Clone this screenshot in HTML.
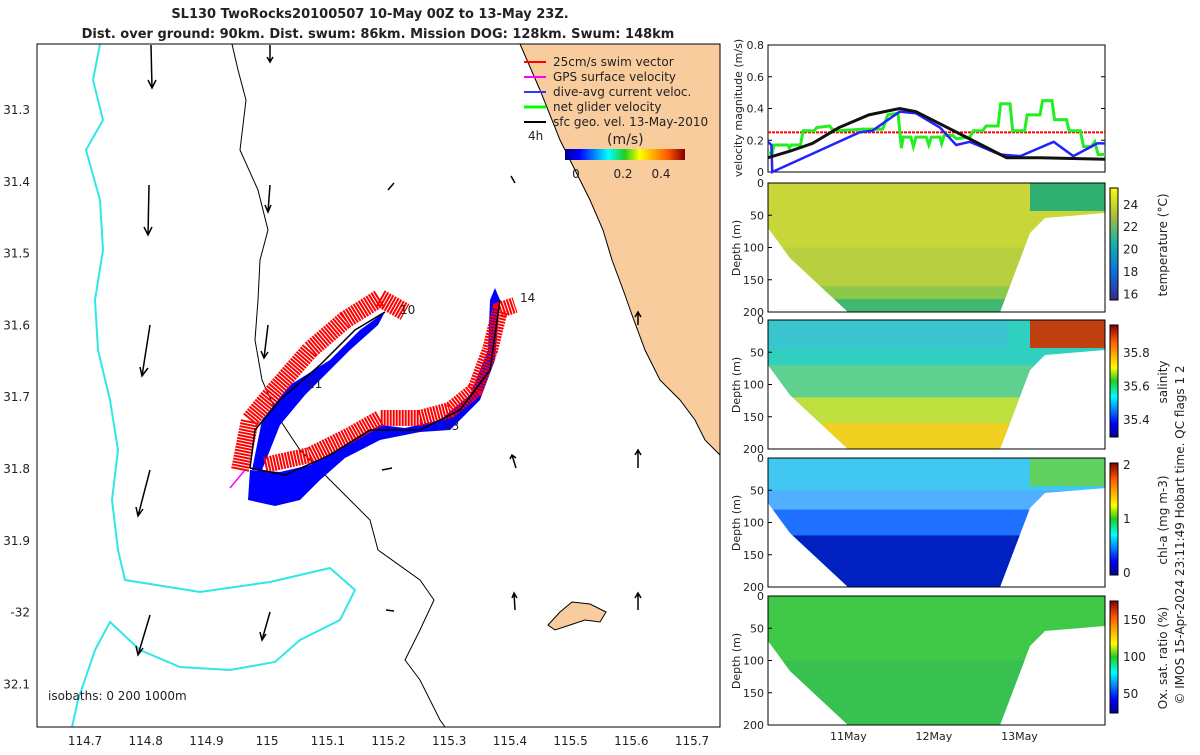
<!DOCTYPE html>
<html><head><meta charset="utf-8"><style>
body{margin:0;background:#fff;font-family:"Liberation Sans","DejaVu Sans",sans-serif}
svg text{font-family:"DejaVu Sans","Liberation Sans",sans-serif;fill:#222}
</style></head><body>
<svg id="s" width="1200" height="750" font-size="12">
<defs>
<linearGradient id="jet" x1="0" x2="1"><stop offset="0" stop-color="#00008f"/><stop offset=".12" stop-color="#0000ff"/><stop offset=".36" stop-color="#00ffff"/><stop offset=".5" stop-color="#22cc22"/><stop offset=".62" stop-color="#ffff00"/><stop offset=".86" stop-color="#ff5500"/><stop offset="1" stop-color="#800000"/></linearGradient>
<linearGradient id="jetv" x1="0" y1="1" x2="0" y2="0"><stop offset="0" stop-color="#00008f"/><stop offset=".12" stop-color="#0000ff"/><stop offset=".36" stop-color="#00ffff"/><stop offset=".5" stop-color="#22cc22"/><stop offset=".62" stop-color="#ffff00"/><stop offset=".86" stop-color="#ff5500"/><stop offset="1" stop-color="#800000"/></linearGradient>
<linearGradient id="parv" x1="0" y1="1" x2="0" y2="0"><stop offset="0" stop-color="#352a87"/><stop offset=".25" stop-color="#0f6fe0"/><stop offset=".5" stop-color="#12b3b0"/><stop offset=".75" stop-color="#a5be3a"/><stop offset="1" stop-color="#f9fb0e"/></linearGradient>
<clipPath id="bowl"><path d="M768,0 L768,45 L790,75 L848,129 L1000,129 L1030,50 L1045,35 L1105,30 L1105,0 Z"/></clipPath>
</defs>

<text x="370" y="18" text-anchor="middle" font-weight="bold" font-size="13">SL130 TwoRocks20100507 10-May 00Z to 13-May 23Z.</text>
<text x="378" y="38" text-anchor="middle" font-weight="bold" font-size="13">Dist. over ground: 90km. Dist. swum: 86km. Mission DOG: 128km. Swum: 148km</text>

<g id="map">
<rect x="37" y="44" width="683" height="683" fill="#fff"/>
<path d="M520,44 L540,90 L560,140 L575,170 L590,200 L603,230 L612,260 L625,295 L632,315 L645,350 L660,380 L680,400 L695,420 L705,440 L720,455 L720,44 Z" fill="#f9cc9e" stroke="#000" stroke-width="1"/>
<path d="M548,625 L560,612 L572,602 L590,604 L606,612 L600,622 L585,620 L570,625 L555,630 Z" fill="#f9cc9e" stroke="#000"/>
<path d="M100,44 L93,80 L103,120 L86,150 L100,200 L103,250 L95,300 L98,350 L110,400 L118,450 L112,500 L118,550 L125,580 L200,592 L270,582 L330,568 L355,590 L340,620 L300,640 L275,662 L230,670 L180,667 L140,650 L110,622 L95,650 L78,700 L72,727" fill="none" stroke="#33e6e6" stroke-width="2"/>
<path d="M232,44 L238,70 L246,100 L240,150 L258,190 L268,230 L260,260 L258,300 L255,340 L262,380 L280,420 L300,450 L340,490 L370,520 L378,550 L420,580 L434,600 L420,630 L405,660 L420,680 L440,720 L445,727" fill="none" stroke="#000" stroke-width="1"/>
<path d="M250,470 L248,500 L275,506 L300,500 L320,480 L345,458 L380,440 L420,432 L450,430 L480,400 L495,360 L500,300 L495,288 L490,300 L488,350 L470,395 L440,420 L405,428 L380,425 L345,445 L310,465 L280,472 Z" fill="#0000ff"/>
<path d="M252,470 L262,420 L290,385 L330,360 L360,330 L385,312 L378,325 L350,350 L305,395 L280,425 L262,470 Z" fill="#0000ff"/>
<path d="M240,470 L250,420 L275,390 L310,350 L345,320 L380,298 L405,312" fill="none" stroke="#ff0000" stroke-width="18" stroke-dasharray="2 1"/>
<path d="M265,465 L310,455 L350,435 L380,418 L420,418 L450,410 L475,390 L490,350 L500,310 L515,305" fill="none" stroke="#ff0000" stroke-width="16" stroke-dasharray="2 1"/>
<path d="M250,468 L255,430 L280,400 L320,365 L355,330 L385,312 M250,468 L285,475 L330,455 L370,430 L420,430 L460,410 L490,370 L500,300" fill="none" stroke="#000" stroke-width="1.5"/>
<line x1="245" y1="470" x2="230" y2="488" stroke="#ff00ff" stroke-width="1.5"/>
<text x="400" y="314">10</text>
<text x="307" y="388">11</text>
<text x="444" y="430">13</text>
<text x="520" y="302">14</text>
<g stroke="#000" stroke-width="1.5" fill="none">
<path d="M151,45 L152,88 M148,80 L152,88 L156,80"/><path d="M149,185 L148,235 M144,227 L148,235 L152,227"/>
<path d="M150,325 L142,376 M140,367 L142,376 L148,368"/><path d="M150,470 L138,516 M136,507 L138,516 L143,509"/>
<path d="M150,615 L138,655 M136,646 L138,655 L143,648"/><path d="M270,45 L270,62 M267,57 L270,62 L273,57"/>
<path d="M270,185 L268,212 M265,205 L268,212 L271,205"/><path d="M268,325 L264,358 M261,351 L264,358 L268,352"/>
<path d="M270,612 L262,640 M260,632 L262,640 L266,634"/><path d="M394,183 L388,190"/><path d="M511,176 L515,183"/>
<path d="M638,312 L638,325 M635,317 L638,312 L641,317"/><path d="M512,455 L516,468 M510,459 L512,455 L516,458"/>
<path d="M638,450 L638,468 M635,455 L638,450 L641,455"/><path d="M382,470 L392,468"/><path d="M514,593 L515,610 M512,598 L514,593 L517,598"/>
<path d="M638,593 L638,610 M635,598 L638,593 L641,598"/><path d="M386,610 L394,611"/>
</g>
<g>
<line x1="524" y1="62" x2="546" y2="62" stroke="#f00" stroke-width="2"/><text x="553" y="66">25cm/s swim vector</text>
<line x1="524" y1="77" x2="546" y2="77" stroke="#f0f" stroke-width="2"/><text x="553" y="81">GPS surface velocity</text>
<line x1="524" y1="92" x2="546" y2="92" stroke="#33f" stroke-width="2"/><text x="553" y="96">dive-avg current veloc.</text>
<line x1="524" y1="107" x2="546" y2="107" stroke="#0f0" stroke-width="3"/><text x="553" y="111">net glider velocity</text>
<line x1="524" y1="122" x2="546" y2="122" stroke="#000" stroke-width="2"/><text x="553" y="126">sfc geo. vel. 13-May-2010</text>
<text x="528" y="140">4h</text><text x="607" y="144" font-size="14">(m/s)</text>
<rect x="565" y="149" width="120" height="11" fill="url(#jet)"/>
<text x="576" y="178" text-anchor="middle">0</text><text x="623" y="178" text-anchor="middle">0.2</text><text x="661" y="178" text-anchor="middle">0.4</text>
</g>
<rect x="37" y="44" width="683" height="683" fill="none" stroke="#000"/>
<text x="48" y="700">isobaths: 0   200  1000m</text>
<g id="mapticks"></g>
</g>

<g>
<rect x="768" y="45" width="337" height="127" fill="#fff" stroke="#000"/>
<g id="vticks"></g>
<g id="vlines"></g>
<text transform="translate(742,108) rotate(-90)" text-anchor="middle" font-size="11">velocity magnitude (m/s)</text>
</g>
<g id="sections"></g>
<text transform="translate(1184,535) rotate(-90)" text-anchor="middle">© IMOS 15-Apr-2024 23:11:49 Hobart time. QC flags 1  2</text>
</svg>
<script>
const NS="http://www.w3.org/2000/svg";
function mk(t,a,p,txt){const e=document.createElementNS(NS,t);for(const k in a)e.setAttribute(k,a[k]);if(txt!=null)e.textContent=txt;p.appendChild(e);return e;}
const lonTicks=["114.7","114.8","114.9","115","115.1","115.2","115.3","115.4","115.5","115.6","115.7"];
const latTicks=["31.3","31.4","31.5","31.6","31.7","31.8","31.9","-32","32.1"];
const mt=document.getElementById('mapticks');
lonTicks.forEach((l,i)=>{const x=85+i*60.7;const t=mk('text',{x:x,y:745,'text-anchor':'middle'},mt,l);

});
latTicks.forEach((l,i)=>{const y=114+i*71.8;const t=mk('text',{x:30,y:y,'text-anchor':'end'},mt,l);

});

const greenT=[0.06,0.11,0.13,0.29,0.31,0.33,0.44,0.47,0.60,0.63,0.78,0.81,0.89,1.17,1.40,1.46,1.58,1.62,1.64,1.73,1.76,1.79,1.91,1.94,1.97,2.07,2.09,2.12,2.22,2.26,2.42,2.46,2.57,2.61,2.75,2.78,2.89,2.92,3.06,3.09,3.24,3.27,3.38,3.41,3.55,3.58,3.71,3.75,3.84,3.88,3.92,4.0];
const greenV=[0.12,0.12,0.17,0.17,0.15,0.17,0.17,0.26,0.26,0.28,0.29,0.27,0.26,0.27,0.27,0.36,0.37,0.15,0.22,0.22,0.16,0.22,0.22,0.17,0.22,0.22,0.18,0.23,0.23,0.21,0.22,0.26,0.26,0.29,0.29,0.43,0.43,0.26,0.26,0.36,0.36,0.45,0.45,0.33,0.33,0.26,0.26,0.16,0.16,0.19,0.11,0.11];
const blueT=[0.06,0.10,0.11,1.13,1.28,1.60,1.79,2.07,2.26,2.42,2.77,3.01,3.40,3.63,3.91,4.0];
const blueV=[0.19,0.17,0.0,0.25,0.26,0.38,0.37,0.28,0.17,0.19,0.11,0.10,0.19,0.10,0.18,0.18];
const blackT=[0.06,0.31,0.58,0.89,1.24,1.60,1.79,2.34,2.85,3.24,4.0];
const blackV=[0.09,0.13,0.18,0.28,0.36,0.40,0.38,0.23,0.09,0.09,0.08];
const swimV=0.25;
const vTicks=[0,0.2,0.4,0.6,0.8];
const dayTicks=[1,2,3];const dayLabels=["11May","12May","13May"];
const X0=768,X1=1105,T0=0.06,T1=4.0;
const xs=t=>X0+(t-T0)/(T1-T0)*(X1-X0);
const vy=v=>172-v/0.8*127;
const vt=document.getElementById('vticks'),vl=document.getElementById('vlines');
vTicks.forEach(v=>{const t=mk('text',{x:764,y:vy(v)+4,'text-anchor':'end','font-size':11},vt,String(v));


mk('line',{x1:768,x2:772,y1:vy(v),y2:vy(v),stroke:'#000'},vt);mk('line',{x1:1101,x2:1105,y1:vy(v),y2:vy(v),stroke:'#000'},vt);});
function line(T,V,col,w,name){const l=mk('polyline',{points:T.map((t,i)=>xs(t)+','+vy(V[i])).join(' '),fill:'none',stroke:col,'stroke-width':w},vl);

}
const sw=mk('line',{x1:X0,x2:X1,y1:vy(swimV),y2:vy(swimV),stroke:'#f00','stroke-width':2,'stroke-dasharray':'3 1'},vl);


line(greenT,greenV,'#22ee22',3,'net-glider-velocity-line');
line(blueT,blueV,'#2222ff',2.5,'dive-avg-current-line');
line(blackT,blackV,'#111',3,'geostrophic-velocity-line');

const sec=document.getElementById('sections');
const panels=[
 {y:183,name:'temperature',label:'temperature (°C)',grad:'parv',ticks:["24","22","20","18","16"],tf:[0.15,0.35,0.55,0.75,0.95],layers:[['#c8d63a',0,1],['#b8cf40',0.5,0.5],['#8cc84a',0.8,0.3],['#40b870',0.9,0.1]],right:'#30b070'},
 {y:320,name:'salinity',label:'salinity',grad:'jetv',ticks:["35.8","35.6","35.4"],tf:[0.25,0.55,0.85],layers:[['#30d0c0',0,1],['#60d090',0.35,0.65],['#c0e040',0.6,0.4],['#f0d020',0.8,0.2]],right:'#c04010'},
 {y:458,name:'chl-a',label:'chl-a (mg m-3)',grad:'jetv',ticks:["2","1","0"],tf:[0.02,0.5,0.98],layers:[['#50b0ff',0,1],['#40c8f0',0,0.25],['#2070ff',0.4,0.6],['#0020c0',0.6,0.4]],right:'#60d060'},
 {y:596,name:'oxygen',label:'Ox. sat. ratio (%)',grad:'jetv',ticks:["150","100","50"],tf:[0.17,0.5,0.83],layers:[['#40c848',0,1],['#38c050',0.5,0.5]],right:'#40c848'}];
const depthTicks=[0,50,100,150,200];
panels.forEach((p,pi)=>{
 const g=mk('g',{transform:'translate(0,'+p.y+')'},sec);
 
 
 const c=mk('g',{'clip-path':'url(#bowl)'},g);
 p.layers.forEach(L=>mk('rect',{x:768,y:L[1]*129,width:337,height:L[2]*129,fill:L[0]},c));
 mk('rect',{x:1030,y:0,width:75,height:28,fill:p.right},c);
 if(pi==1)mk('rect',{x:768,y:0,width:240,height:30,fill:'#40c0d8',opacity:0.6},c);
 mk('rect',{x:768,y:0,width:337,height:129,fill:'none',stroke:'#000'},g);
 depthTicks.forEach(d=>{const yy=d/200*129;const t=mk('text',{x:764,y:yy+4,'text-anchor':'end','font-size':11},g,String(d));
 
 
 mk('line',{x1:768,x2:772,y1:yy,y2:yy,stroke:'#000'},g);});
 mk('text',{transform:'translate(740,65) rotate(-90)','text-anchor':'middle','font-size':11},g,'Depth (m)');
 const cb=mk('rect',{x:1110,y:5,width:8,height:112,fill:'url(#'+p.grad+')',stroke:'#000'},g);
 
 
 p.ticks.forEach((t,i)=>{const l=mk('text',{x:1123,y:5+p.tf[i]*112+4,'font-size':12},g,t);
 
 });
 mk('text',{transform:'translate(1167,62) rotate(-90)','text-anchor':'middle','font-size':12},g,p.label);
});
dayTicks.forEach((d,i)=>{const t=mk('text',{x:xs(d),y:740,'text-anchor':'middle','font-size':11},sec,dayLabels[i]);

});
</script>
</body></html>
